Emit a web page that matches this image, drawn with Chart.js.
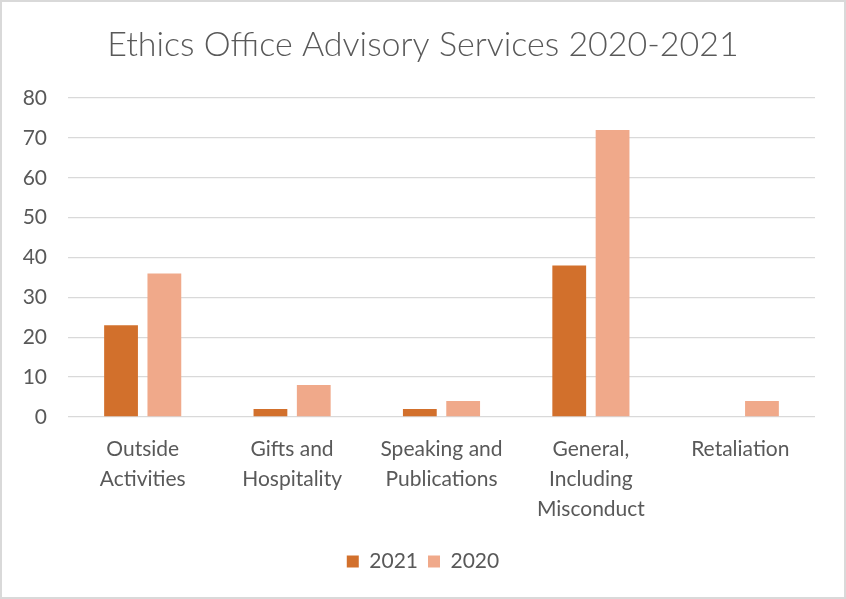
<!DOCTYPE html>
<html>
<head>
<meta charset="utf-8">
<script src="https://cdn.jsdelivr.net/npm/chart.js@4"></script>
<style>
html,body{margin:0;padding:0;background:#fff;}
#wrap{position:relative;width:846px;height:599px;}
canvas{display:block;}
</style>
</head>
<body>
<div id="wrap"><canvas id="c" width="846" height="599"></canvas></div>
<script>
const categories = [
  ['Outside', 'Activities'],
  ['Gifts and', 'Hospitality'],
  ['Speaking and', 'Publications'],
  ['General,', 'Including', 'Misconduct'],
  ['Retaliation']
];
const values2021 = [23, 2, 2, 38, 0];
const values2020 = [36, 8, 4, 72, 4];
const yTicks = [0, 10, 20, 30, 40, 50, 60, 70, 80];

const textColor = '#595959';
const fontFamily = "Lato, 'Open Sans', sans-serif";

const borderPlugin = {
  id: 'outerBorder',
  afterDraw(chart) {
    const ctx = chart.ctx;
    ctx.save();
    ctx.strokeStyle = '#d9d9d9';
    ctx.lineWidth = 2;
    ctx.strokeRect(1, 1, chart.width - 2, chart.height - 2);
    ctx.restore();
  }
};

new Chart(document.getElementById('c'), {
  type: 'bar',
  data: {
    labels: categories,
    datasets: [
      { label: '2021', data: values2021, backgroundColor: '#d2702c' },
      { label: '2020', data: values2020, backgroundColor: '#f0a98a' }
    ]
  },
  options: {
    responsive: false,
    animation: false,
    devicePixelRatio: 1,
    layout: { padding: { left: 0, right: 0, top: 0, bottom: 17 } },
    datasets: { bar: { categoryPercentage: 0.58, barPercentage: 0.78 } },
    plugins: {
      title: {
        display: true,
        text: 'Ethics Office Advisory Services 2020-2021',
        color: textColor,
        font: { family: fontFamily, size: 34, weight: 300, lineHeight: 1.2 },
        padding: { top: 24.5, bottom: 32.7 }
      },
      legend: {
        position: 'bottom',
        labels: {
          color: textColor,
          font: { family: fontFamily, size: 21 },
          boxWidth: 12,
          boxHeight: 12,
          padding: 10
        }
      },
      tooltip: { enabled: false }
    },
    scales: {
      x: {
        grid: { display: false, drawTicks: false },
        border: { display: false },
        ticks: {
          color: textColor,
          font: { family: fontFamily, size: 21, lineHeight: 1.43 },
          padding: 17,
          maxRotation: 0,
          autoSkip: false
        },
        afterFit(scale) { scale.height = 124; }
      },
      y: {
        min: 0,
        max: 80,
        afterBuildTicks(scale) { scale.ticks = yTicks.map(v => ({ value: v })); },
        grid: { color: '#d9d9d9', lineWidth: 1.3, drawTicks: false },
        border: { display: false },
        ticks: {
          color: textColor,
          font: { family: fontFamily, size: 21 },
          padding: 21
        },
        afterFit(scale) { scale.width = 68; }
      },
      yRight: {
        position: 'right',
        display: true,
        min: 0,
        max: 80,
        grid: { display: false, drawTicks: false },
        border: { display: false },
        ticks: { display: false },
        afterFit(scale) { scale.width = 31; }
      }
    }
  },
  plugins: [borderPlugin]
});
</script>
</body>
</html>
